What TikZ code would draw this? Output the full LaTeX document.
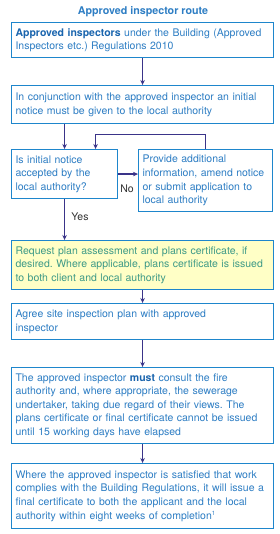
\documentclass[tikz,border=0pt]{standalone}
\usepackage{fontspec}
\setmainfont{TeX Gyre Heros}
\usetikzlibrary{arrows.meta}
\definecolor{bord}{HTML}{1E86CC}
\definecolor{txt}{HTML}{2E7EC4}
\definecolor{dtxt}{HTML}{1A65AE}
\definecolor{arr}{HTML}{3A3489}
\definecolor{yfill}{HTML}{FFFFC6}
\definecolor{ytxt}{HTML}{3E9A87}
\newcommand{\sufoot}[1]{\raisebox{0.6ex}{\fontsize{6}{6}\selectfont #1}}
\frenchspacing
\hyphenpenalty=10000
\exhyphenpenalty=10000
\begin{document}
\begin{tikzpicture}[x=1pt,y=-1pt,
 box/.style={draw=bord, line width=1.1pt, anchor=north west, align=left, inner xsep=4pt, inner ysep=0pt, font=\fontsize{10.5}{13.6}\selectfont, text=txt},
 conn/.style={draw=arr, line width=1.1pt, -{Stealth[length=5pt,width=4.5pt]}},
 lbl/.style={font=\fontsize{10.5}{12}\selectfont, text=black!80}]
\useasboundingbox (0,0) rectangle (280,534);
\fill[white] (0,0) rectangle (280,534);
\node[font=\bfseries\fontsize{10.7}{12}\selectfont, text=txt] (title) at (143,12) {Approved inspector route};
\node[box, text width=254pt, minimum height=35pt] (b1) at (11,22)
 {{\bfseries\color{dtxt}Approved inspectors} under the Building (Approved\\Inspectors etc.) Regulations 2010};
\node[box, text width=254pt, minimum height=38pt] (b2) at (11,85)
 {In conjunction with the approved inspector an initial\\notice must be given to the local authority};
\node[box, text width=98pt, minimum height=49pt] (b3) at (11,149)
 {Is initial notice\\accepted by the\\local authority?};
\node[box, text width=126pt, minimum height=62pt] (b4) at (138,149)
 {Provide additional\\information, amend notice\\or submit application to\\local authority};
\node[box, fill=yfill, text=ytxt, text width=254pt, minimum height=49pt] (b5) at (11,240)
 {Request plan assessment and plans certificate, if\\desired. Where applicable, plans certificate is issued\\to both client and local authority};
\node[box, text width=254pt, minimum height=36pt] (b6) at (11,303)
 {Agree site inspection plan with approved\\inspector};
\node[box, text width=254pt, minimum height=76pt] (b7) at (11,367)
 {The approved inspector {\bfseries\color{dtxt}must} consult the fire\\authority and, where appropriate, the sewerage\\undertaker, taking due regard of their views. The\\plans certificate or final certificate cannot be issued\\until 15 working days have elapsed};
\node[box, text width=254pt, minimum height=65pt] (b8) at (11,463)
 {Where the approved inspector is satisfied that work\\complies with the Building Regulations, it will issue a\\final certificate to both the applicant and the local\\authority within eight weeks of completion\sufoot{1}};
\draw[conn] (b1.south) -- (b2.north);
\draw[conn] (b2.south -| b3.north) -- (b3.north);
\draw[conn] (b4.north) -- ++(0,-14.5) -| ([xshift=31pt]b3.north);
\draw[conn] (b3.east) -- (b3.east -| b4.west);
\node[lbl] (no) at (127,189) {No};
\draw[conn] (b3.south) -- (b3.south |- b5.north);
\node[lbl] (yes) at (80,217) {Yes};
\draw[conn] (b5.south) -- (b6.north);
\draw[conn] (b6.south) -- (b7.north);
\draw[conn] (b7.south) -- (b8.north);
\end{tikzpicture}
\end{document}
